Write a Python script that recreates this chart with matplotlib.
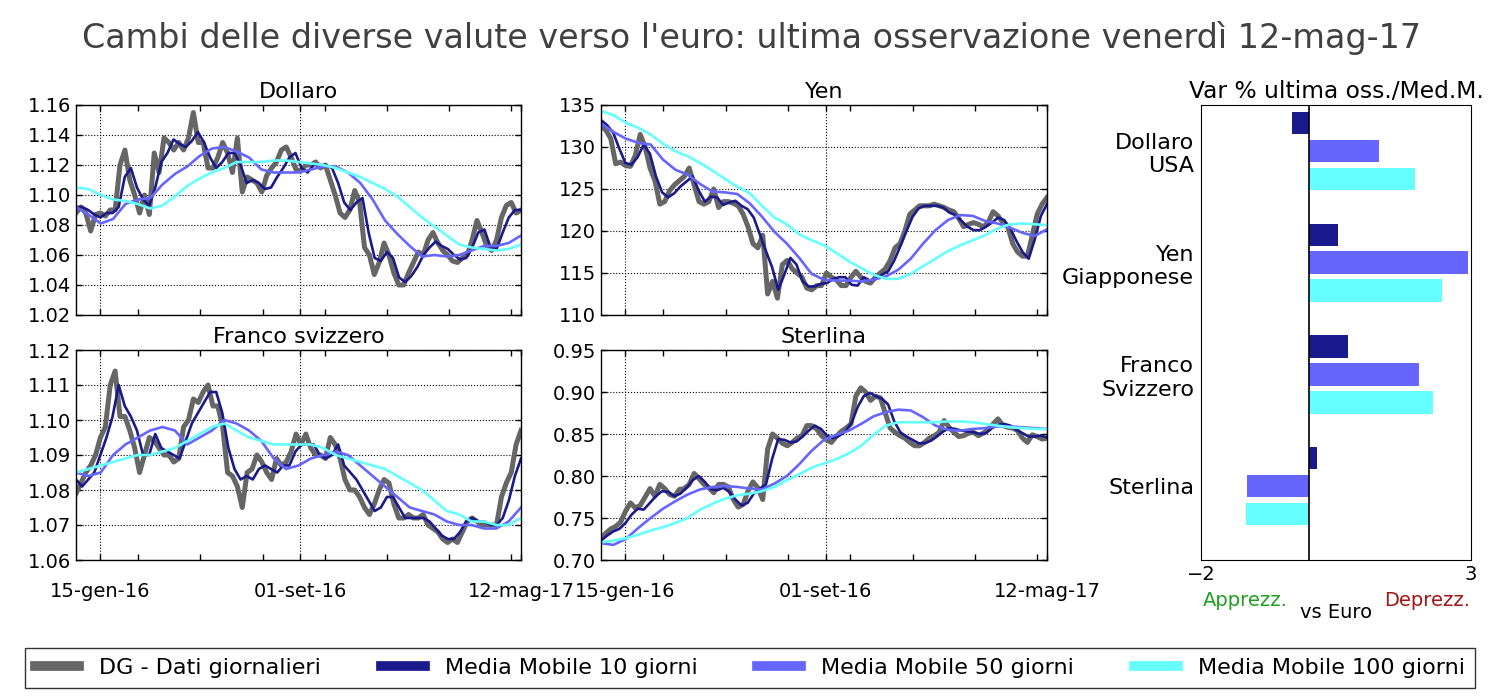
import matplotlib
matplotlib.use("Agg")
import matplotlib.pyplot as plt
from matplotlib.lines import Line2D
import numpy as np
import pandas as pd

# periodo dei grafici (giorni lavorativi)
start_date, end_date = "2015-12-18", "2017-05-12"
tick_dates = ["2016-01-15", "2016-09-01", "2017-05-12"]
mesi = ["gen", "feb", "mar", "apr", "mag", "giu", "lug", "ago", "set", "ott", "nov", "dic"]

# valori: DG ogni 4 giorni, MM10 ogni 5, MM50 e MM100 ogni ~10
dollaro_dg = [1.088, 1.092, 1.088, 1.076, 1.087, 1.088, 1.086, 1.090, 1.090, 1.120,
              1.130, 1.110, 1.100, 1.088, 1.100, 1.087, 1.128, 1.115, 1.138, 1.135,
              1.130, 1.135, 1.130, 1.138, 1.155, 1.135, 1.135, 1.118, 1.118, 1.125,
              1.135, 1.128, 1.115, 1.138, 1.102, 1.112, 1.110, 1.108, 1.102, 1.113,
              1.118, 1.122, 1.130, 1.132, 1.125, 1.117, 1.116, 1.120, 1.120, 1.122,
              1.118, 1.120, 1.110, 1.100, 1.088, 1.085, 1.090, 1.103, 1.095, 1.065,
              1.060, 1.047, 1.055, 1.068, 1.060, 1.048, 1.040, 1.040, 1.048, 1.055,
              1.062, 1.060, 1.070, 1.075, 1.068, 1.063, 1.060, 1.056, 1.055, 1.058,
              1.060, 1.070, 1.083, 1.075, 1.066, 1.063, 1.070, 1.085, 1.093, 1.095,
              1.088, 1.090]
dollaro_mm10 = [1.092, 1.092, 1.090, 1.087, 1.085, 1.088, 1.088, 1.092, 1.112, 1.118,
                1.105, 1.097, 1.093, 1.105, 1.122, 1.128, 1.137, 1.134, 1.132, 1.136,
                1.142, 1.135, 1.125, 1.118, 1.122, 1.128, 1.128, 1.120, 1.108, 1.110,
                1.108, 1.104, 1.105, 1.112, 1.118, 1.125, 1.128, 1.118, 1.115, 1.120,
                1.120, 1.120, 1.118, 1.108, 1.095, 1.090, 1.095, 1.098, 1.075, 1.058,
                1.056, 1.062, 1.058, 1.045, 1.042, 1.046, 1.052, 1.060, 1.065, 1.069,
                1.066, 1.064, 1.060, 1.057, 1.058, 1.065, 1.075, 1.077, 1.065, 1.064,
                1.075, 1.085, 1.090, 1.090]
dollaro_mm50 = [1.092, 1.087, 1.081, 1.084, 1.094, 1.097, 1.098, 1.107, 1.114, 1.119,
                1.126, 1.131, 1.132, 1.129, 1.125, 1.117, 1.115, 1.115, 1.115, 1.117,
                1.119, 1.119, 1.115, 1.108, 1.097, 1.083, 1.074, 1.066, 1.059, 1.060,
                1.059, 1.060, 1.063, 1.066, 1.066, 1.068, 1.073]
dollaro_mm100 = [1.105, 1.104, 1.100, 1.097, 1.096, 1.094, 1.091, 1.093, 1.099, 1.106,
                 1.111, 1.115, 1.118, 1.122, 1.122, 1.122, 1.123, 1.123, 1.122, 1.121,
                 1.120, 1.118, 1.115, 1.112, 1.108, 1.104, 1.099, 1.092, 1.085, 1.079,
                 1.073, 1.067, 1.065, 1.064, 1.063, 1.064, 1.067]

yen_dg = [132.5, 132.0, 131.0, 128.0, 128.2, 127.8, 127.7, 129.0, 131.5, 130.0,
          127.5, 126.0, 123.2, 123.5, 124.8, 125.5, 126.0, 126.5, 127.5, 125.5,
          123.5, 123.2, 123.5, 125.0, 122.8, 123.5, 123.5, 123.3, 123.0, 122.0,
          120.5, 118.5, 118.0, 119.5, 112.5, 114.0, 112.0, 116.0, 116.5, 115.5,
          115.0, 114.5, 113.2, 113.0, 113.5, 113.5, 115.0, 114.5, 114.2, 113.5,
          113.5, 114.5, 115.2, 114.5, 114.0, 113.8, 114.5, 115.0, 115.5, 116.5,
          118.0, 118.5, 120.0, 122.0, 122.5, 123.0, 123.0, 123.0, 123.2, 123.0,
          122.8, 122.5, 122.3, 121.5, 120.5, 120.8, 121.0, 120.8, 120.5, 121.0,
          122.3, 121.8, 121.0, 120.5, 118.5, 117.5, 117.0, 117.0, 119.5, 122.0,
          123.2, 124.0]
yen_mm10 = [133.2, 132.6, 131.7, 129.8, 128.1, 127.9, 128.8, 130.3, 129.2, 126.5,
            124.6, 124.0, 124.5, 125.3, 125.9, 126.5, 124.8, 123.5, 124.1, 124.0,
            123.1, 123.4, 123.6, 123.0, 122.6, 121.6, 119.6, 117.6, 115.7, 113.0,
            114.8, 116.8, 116.0, 114.0, 113.4, 113.4, 113.7, 113.8, 114.3, 114.5,
            114.5, 113.6, 113.5, 114.5, 114.1, 114.3, 114.8, 115.2, 116.5, 118.2,
            120.0, 121.7, 122.7, 123.0, 123.0, 123.0, 122.8, 122.2, 121.9, 121.2,
            120.5, 120.1, 120.1, 120.5, 121.0, 121.6, 121.3, 120.3, 118.8, 117.5,
            116.7, 119.0, 121.8, 123.2]
yen_mm50 = [132.8, 131.8, 131.0, 130.5, 130.3, 128.5, 127.3, 126.7, 125.6, 124.7,
            124.6, 124.4, 123.3, 121.7, 119.9, 118.5, 116.8, 114.9, 114.2, 114.1,
            114.1, 114.0, 114.2, 114.6, 115.4, 116.7, 118.5, 120.1, 121.3, 121.9,
            121.8, 121.2, 120.9, 120.4, 119.8, 119.4, 120.2]
yen_mm100 = [134.3, 133.8, 132.9, 132.3, 131.5, 130.4, 129.5, 128.9, 128.1, 127.2,
             126.2, 125.3, 124.5, 123.0, 121.6, 120.8, 119.6, 118.9, 118.3, 117.4,
             116.4, 115.6, 114.8, 114.3, 114.3, 114.9, 115.8, 116.7, 117.6, 118.3,
             118.9, 119.5, 120.3, 120.8, 120.9, 120.8, 120.7]

franco_dg = [1.079, 1.082, 1.085, 1.087, 1.090, 1.095, 1.098, 1.110, 1.114, 1.101,
             1.101, 1.097, 1.092, 1.085, 1.090, 1.095, 1.094, 1.092, 1.090, 1.090,
             1.088, 1.089, 1.098, 1.100, 1.106, 1.105, 1.108, 1.110, 1.104, 1.104,
             1.098, 1.085, 1.084, 1.081, 1.075, 1.085, 1.086, 1.090, 1.088, 1.085,
             1.083, 1.089, 1.087, 1.088, 1.091, 1.096, 1.093, 1.096, 1.092, 1.090,
             1.090, 1.089, 1.095, 1.093, 1.089, 1.083, 1.080, 1.080, 1.078, 1.075,
             1.073, 1.076, 1.080, 1.083, 1.082, 1.076, 1.072, 1.072, 1.073, 1.072,
             1.072, 1.073, 1.070, 1.069, 1.068, 1.066, 1.065, 1.066, 1.065, 1.068,
             1.071, 1.072, 1.071, 1.070, 1.070, 1.070, 1.070, 1.078, 1.082, 1.085,
             1.093, 1.097]
franco_mm10 = [1.083, 1.081, 1.083, 1.085, 1.090, 1.095, 1.101, 1.110, 1.104, 1.101,
               1.097, 1.090, 1.090, 1.096, 1.092, 1.091, 1.090, 1.089, 1.094, 1.099,
               1.102, 1.105, 1.108, 1.108, 1.102, 1.092, 1.086, 1.083, 1.084, 1.083,
               1.086, 1.087, 1.086, 1.085, 1.087, 1.087, 1.091, 1.093, 1.093, 1.093,
               1.090, 1.089, 1.090, 1.093, 1.087, 1.085, 1.083, 1.080, 1.077, 1.074,
               1.075, 1.078, 1.078, 1.075, 1.072, 1.072, 1.072, 1.072, 1.071, 1.069,
               1.067, 1.066, 1.066, 1.068, 1.071, 1.072, 1.071, 1.071, 1.070, 1.070,
               1.072, 1.077, 1.084, 1.089]
franco_mm50 = [1.085, 1.084, 1.085, 1.090, 1.093, 1.095, 1.097, 1.098, 1.097, 1.093,
               1.095, 1.097, 1.100, 1.099, 1.097, 1.094, 1.089, 1.086, 1.087, 1.089,
               1.090, 1.091, 1.090, 1.087, 1.084, 1.081, 1.078, 1.075, 1.074, 1.073,
               1.071, 1.070, 1.070, 1.069, 1.069, 1.071, 1.075]
franco_mm100 = [1.085, 1.086, 1.087, 1.088, 1.089, 1.090, 1.090, 1.091, 1.092, 1.094,
                1.096, 1.098, 1.099, 1.097, 1.095, 1.094, 1.093, 1.093, 1.093, 1.093,
                1.092, 1.090, 1.089, 1.088, 1.087, 1.086, 1.084, 1.082, 1.080, 1.077,
                1.074, 1.073, 1.071, 1.071, 1.070, 1.070, 1.072]

sterlina_dg = [0.726, 0.732, 0.737, 0.740, 0.745, 0.758, 0.768, 0.762, 0.765, 0.775,
               0.785, 0.776, 0.790, 0.785, 0.778, 0.776, 0.784, 0.785, 0.790, 0.803,
               0.797, 0.790, 0.786, 0.780, 0.790, 0.790, 0.787, 0.772, 0.763, 0.766,
               0.782, 0.793, 0.786, 0.772, 0.832, 0.850, 0.845, 0.839, 0.836, 0.840,
               0.845, 0.848, 0.860, 0.860, 0.856, 0.848, 0.843, 0.840, 0.847, 0.853,
               0.857, 0.862, 0.895, 0.905, 0.900, 0.890, 0.895, 0.893, 0.875, 0.857,
               0.852, 0.848, 0.845, 0.840, 0.836, 0.836, 0.840, 0.845, 0.848, 0.852,
               0.866, 0.858, 0.852, 0.847, 0.848, 0.851, 0.852, 0.848, 0.851, 0.855,
               0.862, 0.868, 0.860, 0.858, 0.857, 0.854, 0.845, 0.840, 0.849, 0.847,
               0.844, 0.845]
sterlina_mm10 = [0.723, 0.729, 0.734, 0.737, 0.744, 0.754, 0.761, 0.760, 0.768, 0.776,
                 0.782, 0.781, 0.776, 0.779, 0.786, 0.795, 0.800, 0.793, 0.784, 0.783,
                 0.786, 0.781, 0.772, 0.765, 0.768, 0.779, 0.785, 0.790, 0.820, 0.844,
                 0.843, 0.840, 0.841, 0.847, 0.854, 0.860, 0.856, 0.848, 0.845, 0.848,
                 0.853, 0.863, 0.882, 0.895, 0.899, 0.895, 0.892, 0.885, 0.865, 0.852,
                 0.847, 0.843, 0.839, 0.839, 0.842, 0.847, 0.853, 0.857, 0.856, 0.854,
                 0.853, 0.852, 0.850, 0.851, 0.857, 0.861, 0.862, 0.860, 0.855, 0.851,
                 0.847, 0.847, 0.848, 0.846]
sterlina_mm50 = [0.720, 0.718, 0.725, 0.738, 0.750, 0.761, 0.770, 0.778, 0.784, 0.787,
                 0.788, 0.787, 0.785, 0.784, 0.791, 0.800, 0.814, 0.830, 0.843, 0.849,
                 0.854, 0.862, 0.871, 0.876, 0.879, 0.878, 0.870, 0.860, 0.855, 0.854,
                 0.856, 0.857, 0.859, 0.859, 0.858, 0.857, 0.856]
sterlina_mm100 = [0.721, 0.723, 0.726, 0.730, 0.735, 0.739, 0.744, 0.750, 0.760, 0.767,
                  0.773, 0.777, 0.779, 0.782, 0.787, 0.795, 0.802, 0.810, 0.815, 0.820,
                  0.827, 0.836, 0.849, 0.860, 0.864, 0.864, 0.864, 0.864, 0.865, 0.865,
                  0.864, 0.862, 0.860, 0.858, 0.857, 0.856, 0.856]

# variazione % ultima osservazione rispetto alle medie mobili
bar_labels = ["Dollaro\nUSA", "Yen\nGiapponese", "Franco\nSvizzero", "Sterlina"]
var_mm10 = [-0.32, 0.53, 0.72, 0.14]
var_mm50 = [1.29, 2.94, 2.04, -1.14]
var_mm100 = [1.96, 2.46, 2.30, -1.16]

series_labels = ["DG - Dati giornalieri", "Media Mobile 10 giorni",
                 "Media Mobile 50 giorni", "Media Mobile 100 giorni"]
colors = ["#666666", "#1a1a8c", "#6666ff", "#66ffff"]

W, H = 1500, 700


def box(left, top, right, bottom):
    return [left / W, 1 - bottom / H, (right - left) / W, (bottom - top) / H]


plt.rcParams["font.family"] = "DejaVu Sans"
plt.rcParams["xtick.direction"] = "in"
plt.rcParams["ytick.direction"] = "in"
plt.rcParams["xtick.top"] = True
plt.rcParams["ytick.right"] = True

fig = plt.figure(figsize=(W / 100, H / 100), dpi=100)

dates = pd.bdate_range(start_date, end_date)
n_days = len(dates)
tick_pos = [dates.get_loc(pd.Timestamp(d)) for d in tick_dates]
tick_lab = [f"{pd.Timestamp(d).day:02d}-{mesi[pd.Timestamp(d).month - 1]}-{pd.Timestamp(d):%y}"
            for d in tick_dates]

panels = [
    ("Dollaro", [dollaro_dg, dollaro_mm10, dollaro_mm50, dollaro_mm100],
     np.arange(1.02, 1.161, 0.02), "{:.2f}", box(76, 105, 521, 315), False),
    ("Yen", [yen_dg, yen_mm10, yen_mm50, yen_mm100],
     np.arange(110, 136, 5), "{:.0f}", box(601, 105, 1047, 315), False),
    ("Franco svizzero", [franco_dg, franco_mm10, franco_mm50, franco_mm100],
     np.arange(1.06, 1.1201, 0.01), "{:.2f}", box(76, 350, 521, 560), True),
    ("Sterlina", [sterlina_dg, sterlina_mm10, sterlina_mm50, sterlina_mm100],
     np.arange(0.70, 0.951, 0.05), "{:.2f}", box(601, 350, 1047, 560), True),
]

for name, series, yticks, fmt, rect, show_x in panels:
    ax = fig.add_axes(rect)
    for i, values in enumerate(series):
        x = np.linspace(0, n_days - 1, len(values))
        ax.plot(x, values, color=colors[i], lw=3.6 if i == 0 else 1.9,
                solid_joinstyle="round")
    ax.set_xlim(0, n_days - 1)
    ax.set_ylim(yticks[0], yticks[-1])
    ax.set_yticks(yticks)
    ax.set_yticklabels([fmt.format(v) for v in yticks])
    ax.set_xticks(tick_pos)
    ax.set_xticks(np.arange(51, n_days, 51), minor=True)
    if show_x:
        ax.set_xticklabels(tick_lab)
    else:
        ax.set_xticklabels([])
    ax.tick_params(which="both", length=4, width=1, labelsize=14)
    ax.tick_params(axis="x", pad=16)
    ax.grid(True, which="major", color="k", ls=":", lw=0.8)
    ax.set_title(name, fontsize=16, pad=5)
    for s in ax.spines.values():
        s.set_linewidth(1)

# barre di variazione percentuale
axb = fig.add_axes(box(1201, 105, 1471, 560))
pos = np.arange(len(bar_labels))
axb.barh(pos - 0.25, var_mm10, height=0.2, color=colors[1])
axb.barh(pos, var_mm50, height=0.2, color=colors[2])
axb.barh(pos + 0.25, var_mm100, height=0.2, color=colors[3])
axb.axvline(0, color="k", lw=1.2)
axb.set_xlim(-2, 3)
axb.set_xticks([-2, 3])
axb.set_yticks(pos)
axb.set_yticklabels(bar_labels, fontsize=16)
axb.set_ylim(3.66, -0.41)
axb.tick_params(axis="y", length=0, pad=5)
axb.tick_params(axis="x", labelsize=14, length=0)
axb.set_title("Var % ultima oss./Med.M.", fontsize=16.8, pad=5)

fig.text(1245 / W, 1 - 600 / H, "Apprezz.", color="#1f9f1f", fontsize=14,
         ha="center", va="center")
fig.text(1427 / W, 1 - 600 / H, "Deprezz.", color="#a31515", fontsize=14,
         ha="center", va="center")
fig.text(1336 / W, 1 - 612 / H, "vs Euro", color="k", fontsize=14,
         ha="center", va="center")

fig.text(0.501, 1 - 38 / H,
         "Cambi delle diverse valute verso l'euro: ultima osservazione venerdì 12-mag-17",
         fontsize=24, color="#404040", ha="center", va="center")

handles = [Line2D([], [], color=c, lw=7) for c in colors]
leg = fig.legend(handles, series_labels, loc="center", ncol=4, mode="expand",
                 bbox_to_anchor=box(25, 647, 1475, 688), borderaxespad=0,
                 fontsize=16, fancybox=False, handlelength=2.0, handletextpad=0.9,
                 borderpad=0.45)
leg.get_frame().set_edgecolor("k")
leg.get_frame().set_linewidth(1)

fig.savefig("out.png", dpi=100)
